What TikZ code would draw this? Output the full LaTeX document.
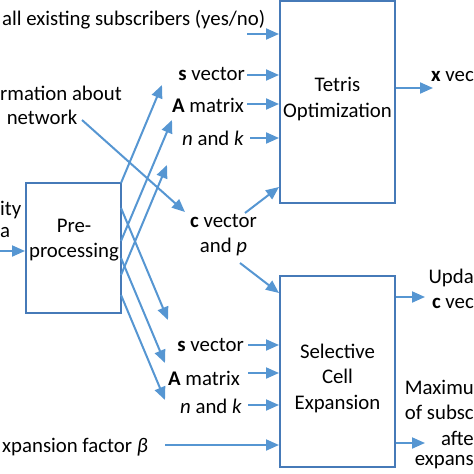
\documentclass[tikz,border=0pt]{standalone}
\usepackage{fontspec}
\setmainfont{Carlito}
\usetikzlibrary{arrows.meta}
\definecolor{boxc}{RGB}{70,122,184}
\definecolor{arrc}{RGB}{86,150,210}
\begin{document}
\begin{tikzpicture}[x=1pt,y=-1pt,
  every node/.style={font=\fontsize{20.8}{25.5}\selectfont, inner sep=0pt, text=black},
  blk/.style={draw=boxc, line width=2pt, fill=white, inner sep=0pt},
  arr/.style={draw=arrc, line width=2pt, -{Triangle[length=13pt,width=11pt]}}]
\useasboundingbox (0,0) rectangle (474,474);
% boxes
\node[blk, minimum width=115pt, minimum height=202pt] (tetris) at (337.5,102) {};
\node[blk, minimum width=115pt, minimum height=191pt] (sce) at (337.5,371.5) {};
\node[blk, minimum width=95pt, minimum height=130pt] (pre) at (73.5,248) {};
\node[align=center] (tetristxt) at (337.5,99) {Tetris\\Optimization};
\node[align=center] (scetxt) at (337.5,378) {Selective\\Cell\\Expansion};
\node[align=center] (pretxt) at (74,240) {Pre-\\processing};
% left texts
\node[anchor=west] (load) at (2,20) {all existing subscribers (yes/no)};
\node[anchor=west] (info) at (0,93) {rmation about};
\node (net) at (42,117) {network};
\node[anchor=west] (cap1) at (0,210) {ity};
\node[anchor=west] (cap2) at (0,233) {a};
\node[anchor=west] (beta) at (2,447) {xpansion factor \textit{β}};
% tetris inputs
\node[anchor=east] (sv1) at (245,74) {\textbf{s} vector};
\node[anchor=east] (am1) at (244,105) {\textbf{A} matrix};
\node[anchor=east] (nk1) at (244,138) {\textit{n} and \textit{k}};
% c vector
\node[align=center] (cvec) at (223.5,235) {\textbf{c} vector\\and \textit{p}};
% sce inputs
\node[anchor=east] (sv2) at (244,345) {\textbf{s} vector};
\node[anchor=east] (am2) at (240,378) {\textbf{A} matrix};
\node[anchor=east] (nk2) at (242,406) {\textit{n} and \textit{k}};
% outputs
\node[anchor=east] (xvec) at (474,77) {\textbf{x} vec};
\node[anchor=east] (upd1) at (474,278) {Upda};
\node[anchor=east] (upd2) at (474,303) {\textbf{c} vec};
\node[anchor=east] (max1) at (474,387) {Maximu};
\node[anchor=east] (max2) at (474,412) {of subsc};
\node[anchor=east] (max3) at (474,438) {afte};
\node[anchor=east] (max4) at (474,462) {expans};
% coordinates
\coordinate (aload) at (247,34);
\coordinate (as1) at (247,75);
\coordinate (aa1) at (247,104);
\coordinate (ank1) at (250,138);
\coordinate (as2) at (248,345);
\coordinate (aa2) at (248,373);
\coordinate (ank2) at (248,405);
\coordinate (abeta) at (165,445);
\coordinate (acap) at (0,251);
\coordinate (anet) at (82,120);
\coordinate (tnet) at (185,212);
\coordinate (ac1) at (245,213);
\coordinate (ac2) at (240,263);
\coordinate (ax) at (433,88);
\coordinate (aupd) at (425,297);
\coordinate (amax) at (425,443);
\coordinate (u1s) at (121,183); \coordinate (u1t) at (162,85);
\coordinate (u2s) at (121,241); \coordinate (u2t) at (172,120);
\coordinate (u3s) at (121,275); \coordinate (u3t) at (167,165);
\coordinate (d1s) at (121,208); \coordinate (d1t) at (168,320);
\coordinate (d2s) at (121,258); \coordinate (d2t) at (165,363);
\coordinate (d3s) at (121,295); \coordinate (d3t) at (165,400);
% connectors
\draw[arr] (aload) -- (aload -| tetris.west);
\draw[arr] (as1) -- (as1 -| tetris.west);
\draw[arr] (aa1) -- (aa1 -| tetris.west);
\draw[arr] (ank1) -- (ank1 -| tetris.west);
\draw[arr] (as2) -- (as2 -| sce.west);
\draw[arr] (aa2) -- (aa2 -| sce.west);
\draw[arr] (ank2) -- (ank2 -| sce.west);
\draw[arr] (abeta) -- (abeta -| sce.west);
\draw[arr] (acap) -- (acap -| pre.west);
\draw[arr] (anet) -- (tnet);
\draw[arr] (ac1) -- (tetris.west |- 0,187);
\draw[arr] (ac2) -- (sce.west |- 0,293);
\draw[arr] (tetris.east |- ax) -- (ax);
\draw[arr] (sce.east |- aupd) -- (aupd);
\draw[arr] (sce.east |- amax) -- (amax);
\draw[arr] (u1s) -- (u1t);
\draw[arr] (u2s) -- (u2t);
\draw[arr] (u3s) -- (u3t);
\draw[arr] (d1s) -- (d1t);
\draw[arr] (d2s) -- (d2t);
\draw[arr] (d3s) -- (d3t);
\end{tikzpicture}
\end{document}
